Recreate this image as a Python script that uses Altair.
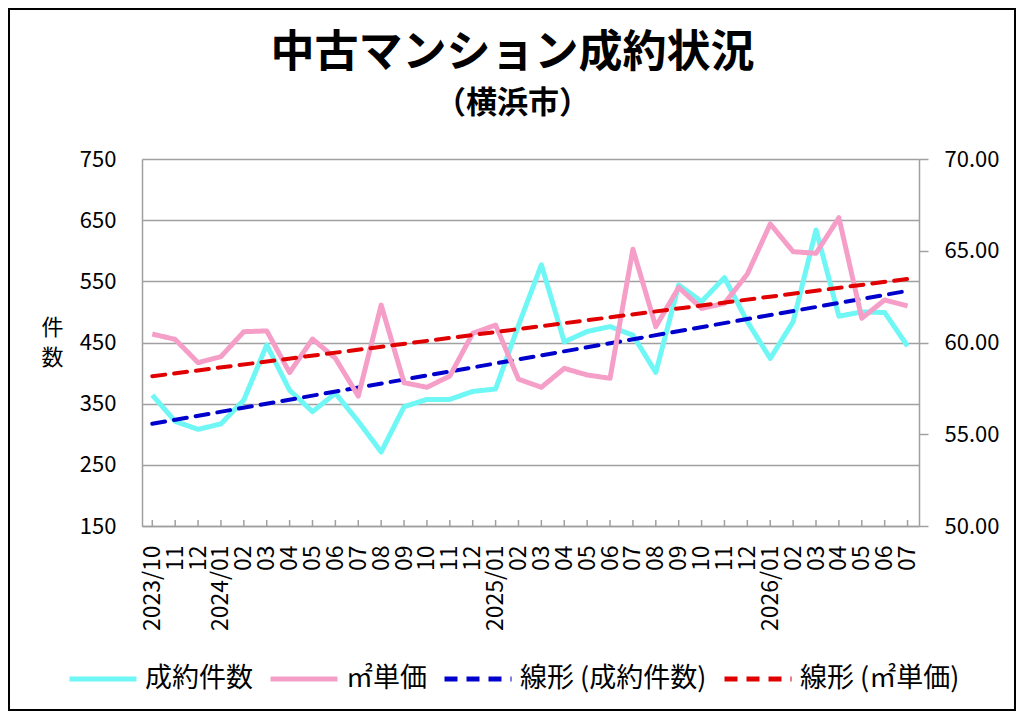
import altair as alt
import pandas as pd

FONT = "Noto Sans CJK JP"

months = ["2023/10", "11", "12", "2024/01", "02", "03", "04", "05", "06", "07",
          "08", "09", "10", "11", "12", "2025/01", "02", "03", "04", "05", "06",
          "07", "08", "09", "10", "11", "12", "2026/01", "02", "03", "04", "05",
          "06", "07"]
counts = [364, 321, 308, 317, 356, 446, 372, 337, 367, 321, 271, 345, 357, 357,
          370, 374, 478, 577, 451, 468, 476, 462, 401, 544, 517, 556, 484, 424,
          484, 634, 493, 500, 499, 444]
prices = [60.46, 60.17, 58.90, 59.23, 60.59, 60.63, 58.36, 60.19, 59.14, 57.08,
          62.04, 57.81, 57.56, 58.17, 60.50, 60.95, 58.00, 57.56, 58.59, 58.23,
          58.05, 65.08, 60.86, 63.00, 61.86, 62.13, 63.73, 66.46, 64.95, 64.86,
          66.80, 61.32, 62.32, 61.99]

series_names = ["成約件数", "㎡単価", "線形 (成約件数)", "線形 (㎡単価)"]
series_colors = ["#6EF7F5", "#F59EC8", "#0000CC", "#E00000"]
series_dashes = [[1, 0], [1, 0], [13, 9], [13, 9]]

left_ticks = [150, 250, 350, 450, 550, 650, 750]
right_ticks = [50, 55, 60, 65, 70]

df = pd.DataFrame({"idx": list(range(len(months))), "month": months,
                   "count": counts, "price": prices})

W, H = 777, 367
GRAY = "#A0A0A0"

label_expr = "[" + ",".join("'%s'" % m for m in months) + "][datum.value]"

x_enc = alt.X(
    "idx:Q",
    scale=alt.Scale(domain=[-0.45, 33.5], nice=False, zero=False),
    axis=alt.Axis(values=list(range(len(months))), labelExpr=label_expr,
                  labelAngle=-90, labelOverlap=False, ticks=False, grid=False,
                  title=None, labelFontSize=23, labelPadding=19,
                  labelColor="black", labelFont=FONT,
                  domainColor=GRAY, domainWidth=1.5),
)

legend = alt.Legend(orient="none", legendX=-75, legendY=484,
                    direction="horizontal", title=None, symbolType="stroke",
                    symbolSize=4489, symbolStrokeWidth=5, labelFontSize=27,
                    labelFont=FONT, labelColor="black", labelOffset=6,
                    columnPadding=7, labelLimit=400)

color_enc = alt.Color("series:N", scale=alt.Scale(domain=series_names, range=series_colors),
                      legend=legend)
dash_enc = alt.StrokeDash("series:N", scale=alt.Scale(domain=series_names, range=series_dashes),
                          legend=legend)

y_left = alt.Y(
    "count:Q",
    scale=alt.Scale(domain=[150, 750], nice=False, zero=False),
    axis=alt.Axis(orient="left", values=left_ticks, grid=True, gridColor=GRAY,
                  gridWidth=1.5, ticks=False, domain=True, domainColor=GRAY,
                  domainWidth=1.5, labelFontSize=22, labelPadding=26,
                  labelColor="black", labelFont=FONT,
                  title=["件", "数"], titleAngle=0, titleX=-90, titleY=168,
                  titleAlign="center", titleBaseline="middle", titleFontSize=22,
                  titleFontWeight="normal", titleLineHeight=30, titleFont=FONT,
                  titleColor="black"),
)
y_right = alt.Y(
    "price:Q",
    scale=alt.Scale(domain=[50, 70], nice=False, zero=False),
    axis=alt.Axis(orient="right", values=right_ticks, format=".2f", grid=False,
                  ticks=True, tickSize=9, tickColor=GRAY, tickWidth=1.5,
                  domain=True, domainColor=GRAY, domainWidth=1.5,
                  labelFontSize=22, labelPadding=16, labelColor="black",
                  labelFont=FONT, title=None),
)

base = alt.Chart(df)

count_line = base.transform_calculate(series="'成約件数'").mark_line(
    strokeWidth=5, strokeJoin="round").encode(x=x_enc, y=y_left, color=color_enc, strokeDash=dash_enc)
count_trend = base.transform_regression("idx", "count").transform_calculate(
    series="'線形 (成約件数)'").mark_line(strokeWidth=4, strokeCap="round").encode(
    x=x_enc, y=alt.Y("count:Q"), color=color_enc, strokeDash=dash_enc)

price_line = base.transform_calculate(series="'㎡単価'").mark_line(
    strokeWidth=5, strokeJoin="round").encode(x=x_enc, y=y_right, color=color_enc, strokeDash=dash_enc)
price_trend = base.transform_regression("idx", "price").transform_calculate(
    series="'線形 (㎡単価)'").mark_line(strokeWidth=4, strokeCap="round").encode(
    x=x_enc, y=alt.Y("price:Q"), color=color_enc, strokeDash=dash_enc)

left_group = alt.layer(count_line, count_trend)
right_group = alt.layer(price_line, price_trend)

tick_rules = base.mark_rule(color=GRAY, strokeWidth=1.5).encode(
    x=x_enc, y=alt.value(H - 6), y2=alt.value(H))

frame = alt.Chart(pd.DataFrame({"k": [0]})).mark_rect(
    fillOpacity=0, stroke="black", strokeWidth=2).encode(
    x=alt.value(-133), x2=alt.value(W + 96), y=alt.value(-150), y2=alt.value(H + 184))

chart = alt.layer(frame, tick_rules, left_group, right_group).resolve_scale(
    y="independent").properties(
    width=W, height=H,
    autosize=alt.AutoSizeParams(type="none"),
    padding={"left": 134, "top": 151, "right": 97, "bottom": 185},
    title=alt.TitleParams(text="中古マンション成約状況", subtitle="（横浜市）",
                          fontSize=44, subtitleFontSize=31, fontWeight="bold",
                          subtitleFontWeight="bold", font=FONT, subtitleFont=FONT,
                          color="black", subtitleColor="black", anchor="middle",
                          dx=-18, offset=-111, subtitlePadding=13),
).configure_view(strokeWidth=0).configure(font=FONT)

chart.save("out.html", embed_options={"renderer": "svg", "actions": False})
